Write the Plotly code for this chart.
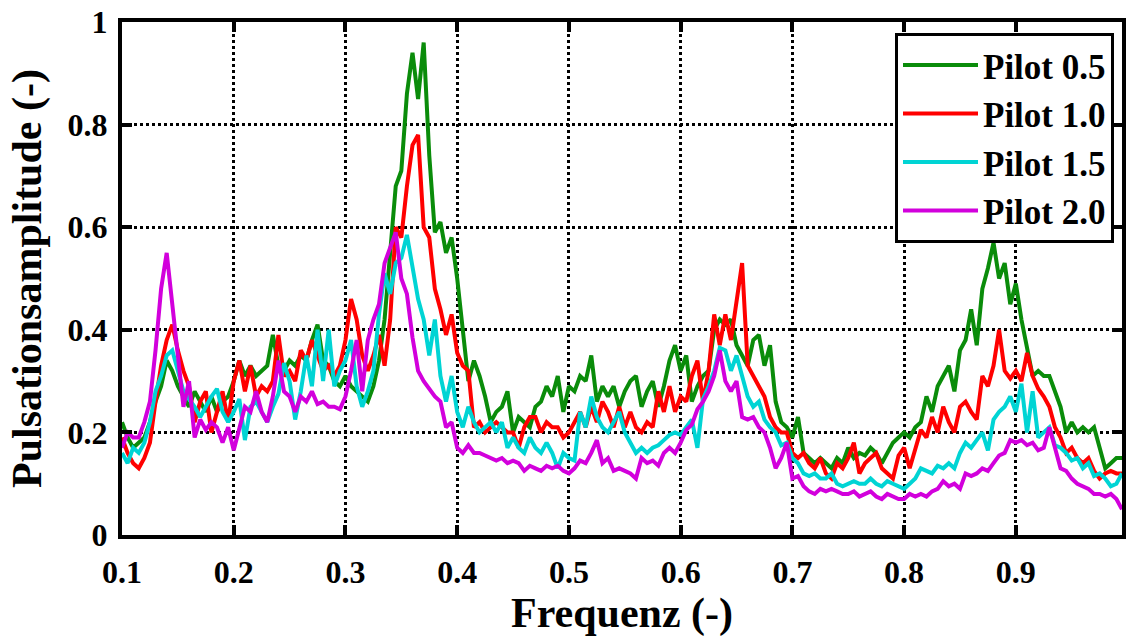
import plotly.graph_objects as go

# Frequency sampling grid (0.100 ... 0.995, step 0.005)
freq = [round(0.100 + 0.005 * i, 3) for i in range(180)]

pilot_05 = [
    0.22, 0.19, 0.17, 0.18, 0.19, 0.22, 0.26, 0.29, 0.34, 0.32,
    0.29, 0.27, 0.25, 0.28, 0.26, 0.24, 0.27, 0.24, 0.26, 0.27,
    0.30, 0.34, 0.31, 0.33, 0.31, 0.32, 0.33, 0.39, 0.33, 0.32,
    0.34, 0.33, 0.35, 0.34, 0.38, 0.41, 0.34, 0.33, 0.30, 0.29,
    0.31, 0.29, 0.28, 0.27, 0.26, 0.29, 0.34, 0.42, 0.56, 0.68,
    0.71, 0.86, 0.94, 0.85, 0.96, 0.74, 0.59, 0.61, 0.55, 0.58,
    0.50, 0.40, 0.30, 0.34, 0.31, 0.27, 0.22, 0.24, 0.25, 0.28,
    0.20, 0.23, 0.22, 0.21, 0.25, 0.26, 0.29, 0.27, 0.31, 0.24,
    0.29, 0.28, 0.31, 0.30, 0.35, 0.26, 0.29, 0.27, 0.29, 0.25,
    0.28, 0.30, 0.31, 0.25, 0.28, 0.30, 0.25, 0.29, 0.34, 0.37,
    0.32, 0.35, 0.26, 0.29, 0.31, 0.32, 0.40, 0.42, 0.41, 0.42,
    0.37, 0.35, 0.33, 0.38, 0.39, 0.33, 0.37, 0.26, 0.22, 0.21,
    0.19, 0.23, 0.16, 0.15, 0.14, 0.15, 0.14, 0.13, 0.15, 0.14,
    0.17, 0.15, 0.16, 0.155, 0.17, 0.16, 0.14, 0.16, 0.18, 0.19,
    0.20, 0.19, 0.21, 0.22, 0.27, 0.24, 0.29, 0.31, 0.33, 0.28,
    0.36, 0.38, 0.44, 0.37, 0.48, 0.52, 0.57, 0.50, 0.53, 0.45,
    0.49, 0.42, 0.36, 0.31, 0.32, 0.31, 0.31, 0.28, 0.25, 0.20,
    0.22, 0.20, 0.21, 0.20, 0.21, 0.17, 0.13, 0.14, 0.15, 0.15,
]

pilot_10 = [
    0.19, 0.16, 0.14, 0.13, 0.15, 0.18, 0.26, 0.33, 0.38, 0.41,
    0.36, 0.32, 0.29, 0.22, 0.26, 0.28, 0.20, 0.24, 0.28, 0.22,
    0.30, 0.34, 0.28, 0.33, 0.27, 0.29, 0.28, 0.30, 0.39, 0.31,
    0.32, 0.30, 0.36, 0.34, 0.38, 0.35, 0.32, 0.33, 0.31, 0.33,
    0.38, 0.46, 0.42, 0.35, 0.32, 0.35, 0.39, 0.33, 0.42, 0.60,
    0.58, 0.68, 0.76, 0.78, 0.60, 0.58, 0.48, 0.44, 0.39, 0.43,
    0.355, 0.33, 0.32, 0.21, 0.22, 0.20, 0.21, 0.22, 0.21, 0.20,
    0.20, 0.17, 0.21, 0.23, 0.23, 0.20, 0.22, 0.21, 0.21, 0.19,
    0.20, 0.22, 0.24, 0.21, 0.25, 0.22, 0.26, 0.24, 0.21, 0.25,
    0.21, 0.24, 0.21, 0.20, 0.22, 0.21, 0.28, 0.24, 0.29, 0.24,
    0.27, 0.26, 0.31, 0.34, 0.26, 0.32, 0.43, 0.37, 0.43, 0.38,
    0.45, 0.53, 0.33, 0.31, 0.29, 0.27, 0.23, 0.21, 0.20, 0.20,
    0.16, 0.15, 0.16, 0.14, 0.13, 0.15, 0.12, 0.11, 0.14, 0.13,
    0.15, 0.18, 0.12, 0.14, 0.15, 0.16, 0.13, 0.12, 0.11, 0.155,
    0.17, 0.13, 0.17, 0.205, 0.19, 0.23, 0.20, 0.25, 0.22, 0.20,
    0.25, 0.26, 0.24, 0.225, 0.31, 0.29, 0.33, 0.40, 0.32, 0.305,
    0.32, 0.30, 0.355, 0.31, 0.285, 0.27, 0.25, 0.21, 0.19, 0.16,
    0.17, 0.15, 0.14, 0.15, 0.125, 0.11, 0.12, 0.125, 0.12, 0.12,
]

pilot_15 = [
    0.16, 0.14, 0.17, 0.16, 0.18, 0.22, 0.28, 0.31, 0.35, 0.36,
    0.32, 0.28, 0.265, 0.25, 0.23, 0.25, 0.27, 0.285, 0.24, 0.22,
    0.24, 0.265, 0.185, 0.25, 0.26, 0.24, 0.22, 0.25, 0.275, 0.335,
    0.30, 0.225, 0.28, 0.35, 0.29, 0.40, 0.30, 0.40, 0.29, 0.32,
    0.34, 0.38, 0.29, 0.25, 0.28, 0.32, 0.43, 0.51, 0.47, 0.53,
    0.54, 0.585, 0.52, 0.46, 0.42, 0.35, 0.42, 0.31, 0.26, 0.31,
    0.24, 0.21, 0.25, 0.22, 0.20, 0.21, 0.22, 0.20, 0.22, 0.17,
    0.19, 0.17, 0.16, 0.19, 0.17, 0.16, 0.18, 0.16, 0.13, 0.16,
    0.15, 0.145, 0.24, 0.21, 0.27, 0.23, 0.21, 0.20, 0.22, 0.24,
    0.20, 0.18, 0.16, 0.17, 0.16, 0.17, 0.175, 0.185, 0.195, 0.20,
    0.195, 0.21, 0.225, 0.17, 0.265, 0.29, 0.32, 0.365, 0.36, 0.32,
    0.35, 0.31, 0.27, 0.25, 0.26, 0.225, 0.21, 0.20, 0.175, 0.18,
    0.15, 0.14, 0.12, 0.115, 0.12, 0.11, 0.11, 0.12, 0.10, 0.095,
    0.10, 0.105, 0.10, 0.10, 0.11, 0.10, 0.095, 0.105, 0.10, 0.095,
    0.09, 0.10, 0.11, 0.13, 0.125, 0.12, 0.135, 0.13, 0.14, 0.13,
    0.16, 0.18, 0.17, 0.185, 0.20, 0.165, 0.225, 0.24, 0.25, 0.27,
    0.24, 0.295, 0.20, 0.28, 0.19, 0.20, 0.21, 0.175, 0.17, 0.16,
    0.145, 0.15, 0.13, 0.14, 0.115, 0.12, 0.11, 0.095, 0.10, 0.12,
]

pilot_20 = [
    0.17, 0.20, 0.19, 0.19, 0.22, 0.26, 0.36, 0.48, 0.55, 0.45,
    0.34, 0.25, 0.30, 0.19, 0.225, 0.205, 0.22, 0.21, 0.18, 0.21,
    0.165, 0.21, 0.25, 0.24, 0.28, 0.24, 0.22, 0.27, 0.34, 0.28,
    0.27, 0.24, 0.27, 0.26, 0.28, 0.255, 0.26, 0.25, 0.25, 0.245,
    0.27, 0.32, 0.38, 0.28, 0.38, 0.42, 0.45, 0.53, 0.56, 0.59,
    0.50, 0.47, 0.385, 0.32, 0.30, 0.285, 0.27, 0.26, 0.21, 0.22,
    0.17, 0.16, 0.175, 0.16, 0.16, 0.155, 0.15, 0.145, 0.15, 0.14,
    0.145, 0.14, 0.125, 0.135, 0.13, 0.125, 0.135, 0.13, 0.135, 0.125,
    0.12, 0.13, 0.145, 0.14, 0.16, 0.185, 0.14, 0.15, 0.125, 0.13,
    0.125, 0.12, 0.11, 0.15, 0.14, 0.145, 0.135, 0.16, 0.17, 0.16,
    0.18, 0.205, 0.215, 0.245, 0.26, 0.28, 0.31, 0.36, 0.30, 0.28,
    0.30, 0.23, 0.225, 0.23, 0.21, 0.20, 0.17, 0.13, 0.15, 0.18,
    0.11, 0.115, 0.095, 0.085, 0.08, 0.09, 0.085, 0.09, 0.085, 0.08,
    0.08, 0.085, 0.075, 0.08, 0.085, 0.075, 0.07, 0.08, 0.075, 0.07,
    0.07, 0.08, 0.075, 0.08, 0.075, 0.085, 0.09, 0.105, 0.095, 0.10,
    0.09, 0.12, 0.115, 0.12, 0.13, 0.125, 0.14, 0.155, 0.16, 0.185,
    0.18, 0.185, 0.175, 0.18, 0.165, 0.17, 0.21, 0.17, 0.13, 0.125,
    0.11, 0.10, 0.095, 0.09, 0.08, 0.08, 0.075, 0.08, 0.07, 0.05,
]

series_names = ["Pilot 0.5", "Pilot 1.0", "Pilot 1.5", "Pilot 2.0"]
series_values = [pilot_05, pilot_10, pilot_15, pilot_20]
series_colors = ["#0a8c0a", "#ff0000", "#00d4d4", "#d200dc"]

x_tick_vals = [0.1, 0.2, 0.3, 0.4, 0.5, 0.6, 0.7, 0.8, 0.9]
x_tick_text = ["0.1", "0.2", "0.3", "0.4", "0.5", "0.6", "0.7", "0.8", "0.9"]
y_tick_vals = [0, 0.2, 0.4, 0.6, 0.8, 1.0]
y_tick_text = ["0", "0.2", "0.4", "0.6", "0.8", "1"]

FONT = "Liberation Serif"

fig = go.Figure()
for i, (name, vals, col) in enumerate(zip(series_names, series_values, series_colors)):
    fig.add_trace(go.Scatter(
        x=freq, y=vals, mode="lines", name=name,
        line=dict(color=col, width=4),
    ))

axis_common = dict(
    showline=True, linewidth=4, linecolor="black", mirror="ticks",
    ticks="inside", ticklen=10, tickwidth=4, tickcolor="black",
    showgrid=True, gridcolor="black", gridwidth=3, griddash="dot",
    zeroline=False,
    tickfont=dict(family=FONT, size=32, color="black", weight="bold"),
)

fig.update_layout(
    width=1130, height=637,
    margin=dict(l=122, r=4, t=21, b=102),
    paper_bgcolor="white", plot_bgcolor="white",
    font=dict(family=FONT, color="black"),
    xaxis=dict(
        range=[0.1, 0.995], tickvals=x_tick_vals, ticktext=x_tick_text,
        ticklabelstandoff=6,
        title=dict(text="Frequenz (-)", standoff=12,
                   font=dict(family=FONT, size=42, color="black", weight="bold")),
        **axis_common,
    ),
    yaxis=dict(
        range=[0, 1], tickvals=y_tick_vals, ticktext=y_tick_text,
        ticklabelstandoff=4,
        title=dict(text="Pulsationsamplitude (-)", standoff=14,
                   font=dict(family=FONT, size=42, color="black", weight="bold")),
        **axis_common,
    ),
    legend=dict(
        x=0.992, y=0.979, xanchor="right", yanchor="top",
        bgcolor="white", bordercolor="black", borderwidth=3,
        font=dict(family=FONT, size=35, color="black", weight="bold"),
        itemwidth=75,
    ),
)

fig.write_html("out.html")
